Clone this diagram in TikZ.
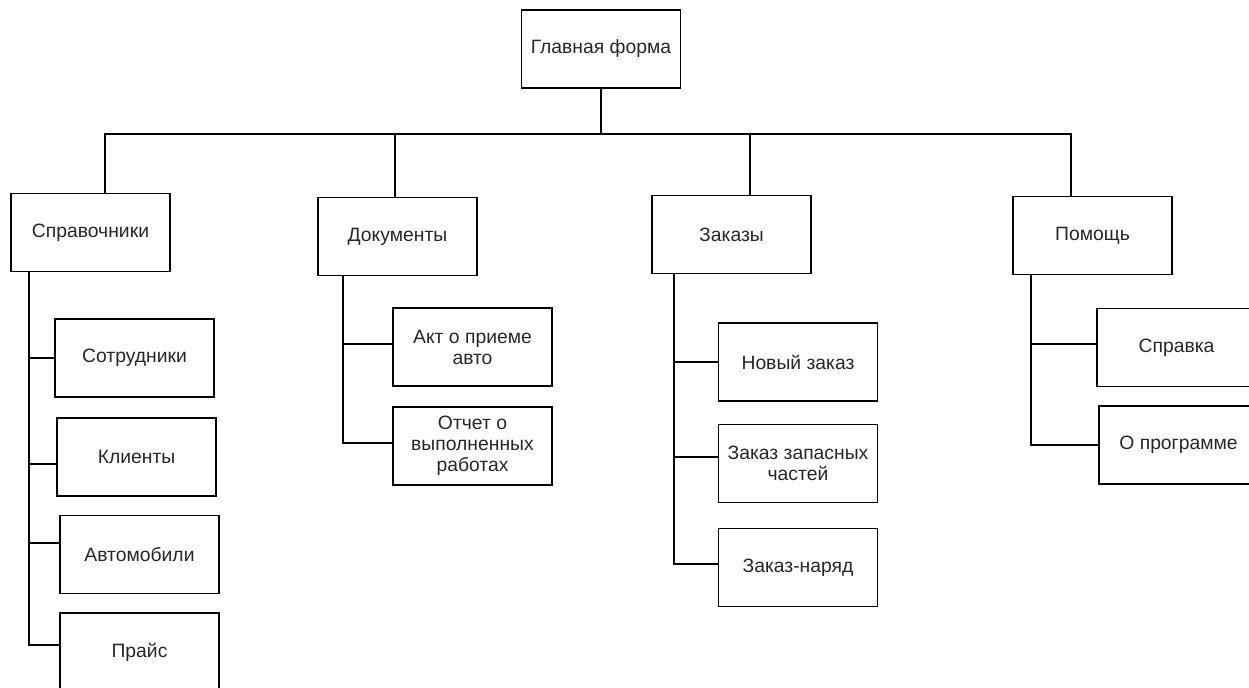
\documentclass[tikz,border=0pt]{standalone}
\usepackage{fontspec}
\setmainfont{Liberation Sans}
\usepackage{tikz}
\usetikzlibrary{positioning}

\begin{document}
\begin{tikzpicture}[
  x=0.02cm, y=-0.02cm,
  box/.style={draw, line width=0.8pt, align=center, minimum width=3.18cm,
              minimum height=1.56cm, inner sep=2pt, text=black!85,
              font=\fontsize{11}{12}\selectfont},
  link/.style={line width=0.8pt}
]
\useasboundingbox (0,0) rectangle (1249,688);
\clip (0,0) rectangle (1249,688);

% root and menu
\node[box] (main) at (601,49) {Главная форма};
\node[box] (spr) at (90.5,232.5) {Справочники};
\node[box] (doc) at (397.5,236.5) {Документы};
\node[box] (zak) at (731.5,234.5) {Заказы};
\node[box] (pom) at (1092.5,235.5) {Помощь};

% submenu items
\node[box] (sotr) at (134.5,358) {Сотрудники};
\node[box] (kli) at (136.5,457) {Клиенты};
\node[box] (avto) at (139.5,554.5) {Автомобили};
\node[box] (price) at (139.5,652) {Прайс};
\node[box] (akt) at (472.5,347) {Акт о приеме\\авто};
\node[box] (otch) at (472.5,446) {Отчет о\\выполненных\\работах};
\node[box] (nov) at (798,362) {Новый заказ};
\node[box] (zap) at (798,463.5) {Заказ запасных\\частей};
\node[box] (nar) at (798,567.5) {Заказ-наряд};
\node[box] (sprav) at (1176.5,347.5) {Справка};
\node[box] (oprog) at (1178.5,445) {О программе};

% bus
\coordinate (bus) at (601,134);
\draw[link] (main.south) -- (bus);
\draw[link] (bus) -| ([xshift=0.29cm]spr.north);
\draw[link] (bus) -| ([xshift=-0.05cm]doc.north);
\draw[link] (bus) -| ([xshift=0.37cm]zak.north);
\draw[link] (bus) -| ([xshift=-0.43cm]pom.north);

% branches
\draw[link] ([xshift=-1.23cm]spr.south) |- (sotr.west);
\draw[link] ([xshift=-1.23cm]spr.south) |- ([yshift=-0.14cm]kli.west);
\draw[link] ([xshift=-1.23cm]spr.south) |- ([yshift=0.23cm]avto.west);
\draw[link] ([xshift=-1.23cm]spr.south) |- ([yshift=0.14cm]price.west);
\draw[link] ([xshift=-1.09cm]doc.south) |- ([yshift=0.06cm]akt.west);
\draw[link] ([xshift=-1.09cm]doc.south) |- ([yshift=0.06cm]otch.west);
\draw[link] ([xshift=-1.15cm]zak.south) |- (nov.west);
\draw[link] ([xshift=-1.15cm]zak.south) |- ([yshift=0.13cm]zap.west);
\draw[link] ([xshift=-1.15cm]zak.south) |- ([yshift=0.07cm]nar.west);
\draw[link] ([xshift=-1.23cm]pom.south) |- ([yshift=0.07cm]sprav.west);
\draw[link] ([xshift=-1.23cm]pom.south) |- (oprog.west);
\end{tikzpicture}
\end{document}
